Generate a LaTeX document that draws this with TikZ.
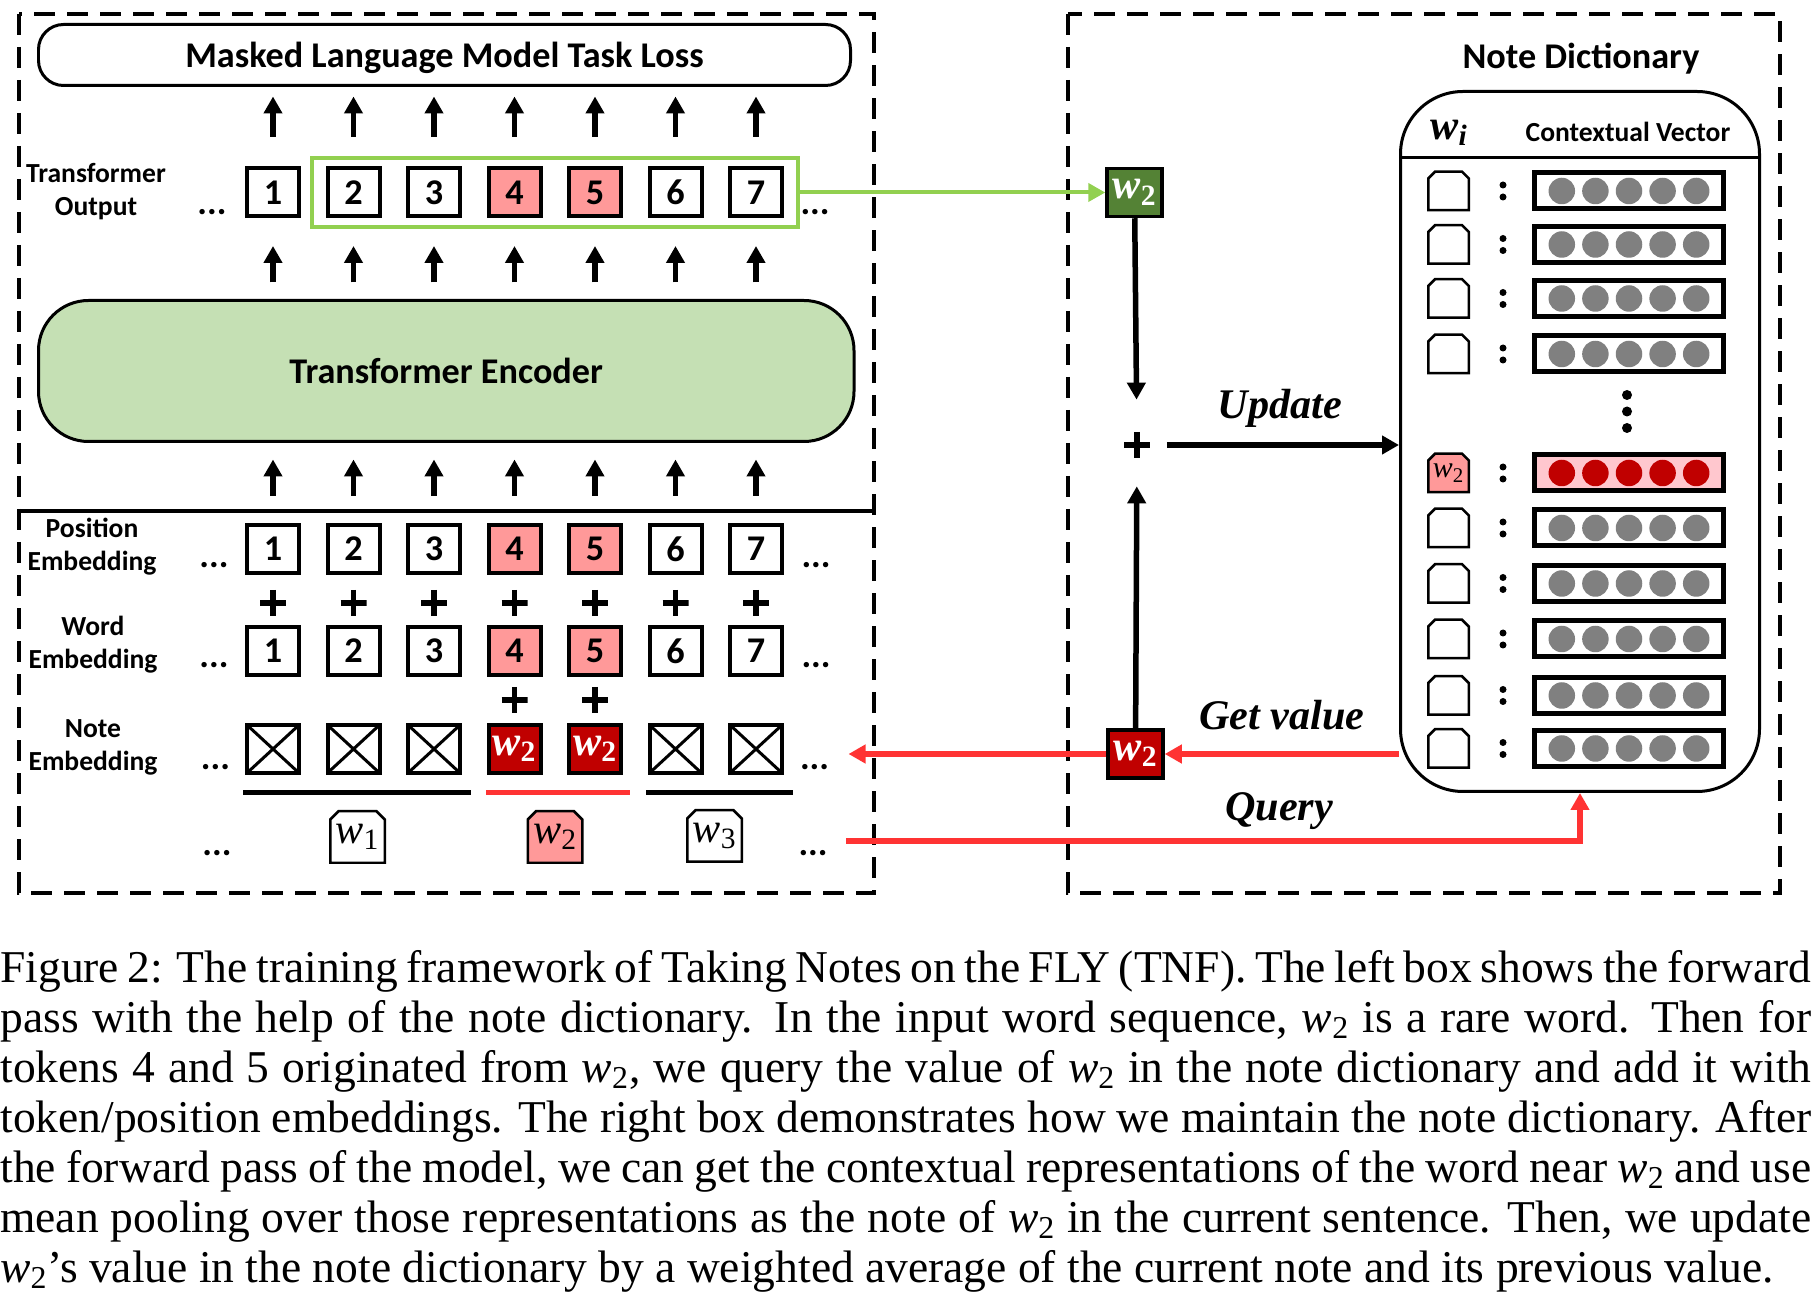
\documentclass[tikz,border=0pt]{standalone}
\usepackage{fontspec}
\setmainfont{Liberation Serif}
\newfontfamily\cali{Carlito}
\usetikzlibrary{arrows.meta,fit}
\definecolor{hotpink}{RGB}{255,153,153}
\definecolor{rowpink}{RGB}{255,199,206}
\definecolor{darkred}{RGB}{192,0,0}
\definecolor{darkgreen}{RGB}{84,130,53}
\definecolor{encgreen}{RGB}{197,224,180}
\definecolor{linegreen}{RGB}{146,208,80}
\definecolor{linered}{RGB}{255,51,51}
\definecolor{dotgrey}{RGB}{128,128,128}
\newcommand{\wv}[1]{\textit{w}\textsubscript{\upshape #1}}
\newcommand{\wc}{\textit{w}\textsubscript{2}}
% word tag outline: fill colour, chamfer
\newcommand{\tagoutline}[2]{\filldraw[fill=#1,line width=0.05cm] ([shift={(0.025cm,0.025cm)}]path picture bounding box.south west) -- ([shift={(0.025cm,-#2)}]path picture bounding box.north west) -- ([shift={(#2,-0.025cm)}]path picture bounding box.north west) -- ([shift={(-#2,-0.025cm)}]path picture bounding box.north east) -- ([shift={(-0.025cm,-#2)}]path picture bounding box.north east) -- ([shift={(-0.025cm,0.025cm)}]path picture bounding box.south east) -- cycle;}
\def\fbig{\cali\bfseries\fontsize{20.6}{24}\selectfont}
\def\flbl{\cali\bfseries\fontsize{15.7}{19}\selectfont}
\def\fwi{\bfseries\itshape\fontsize{24}{28}\selectfont}
\def\fws{\itshape\fontsize{24}{28}\selectfont}
\def\fkey{\itshape\fontsize{17}{19}\selectfont}
\def\fact{\bfseries\itshape\fontsize{24}{28}\selectfont}
\def\fcap{\fontsize{25.9}{28.45}\selectfont}

\begin{document}
\begin{tikzpicture}[>={Triangle[length=0.34cm,width=0.36cm]},node distance=1.61cm]
    \tikzstyle{tokbox}=[rectangle,draw,fill=white,line width=0.08cm,minimum width=1.04cm,minimum height=0.96cm,inner sep=0,font=\fbig]
    \tikzstyle{hotbox}=[tokbox,fill=hotpink]
    \tikzstyle{crossbox}=[tokbox,path picture={\draw[line width=0.06cm] (path picture bounding box.north west) -- (path picture bounding box.south east) (path picture bounding box.north east) -- (path picture bounding box.south west);}]
    \tikzstyle{notebox}=[tokbox,fill=darkred,text=white,font=\fwi]
    \tikzstyle{wordtag}=[rectangle,inner sep=0,minimum width=1.14cm,minimum height=1.08cm,font=\fws,path picture={\tagoutline{white}{0.19cm}}]
    \tikzstyle{hottag}=[wordtag,path picture={\tagoutline{hotpink}{0.19cm}}]
    \tikzstyle{keytag}=[rectangle,inner sep=0,minimum width=0.86cm,minimum height=0.82cm,font=\fkey,path picture={\tagoutline{white}{0.16cm}}]
    \tikzstyle{hotkey}=[keytag,path picture={\tagoutline{hotpink}{0.16cm}}]
    \tikzstyle{valbox}=[rectangle,draw,fill=white,line width=0.1cm,minimum width=3.78cm,minimum height=0.72cm,inner sep=0]
    \tikzstyle{colondots}=[minimum width=0.2cm,minimum height=0.4cm,inner sep=0,path picture={\fill ([yshift=0.12cm]path picture bounding box.center) circle (0.07cm) ([yshift=-0.12cm]path picture bounding box.center) circle (0.07cm);}]
    \tikzstyle{plussign}=[minimum size=0.52cm,inner sep=0,path picture={\draw[line width=0.11cm] (path picture bounding box.north) -- (path picture bounding box.south) (path picture bounding box.west) -- (path picture bounding box.east);}]
    \tikzstyle{ellip}=[inner sep=0,font=\fbig]
    \tikzstyle{sidelabel}=[align=center,font=\flbl]
    \tikzstyle{uparrow}=[->,line width=0.11cm]
    \tikzstyle{redarrow}=[->,draw=linered,line width=0.11cm]
    \tikzstyle{dashframe}=[dash pattern=on 0.42cm off 0.24cm,line width=0.09cm]

    \useasboundingbox (0,0) rectangle (36.36,-26.02);

    % the two boxes
    \draw[dashframe] (0.38,-0.28) rectangle (17.48,-17.86);
    \draw[dashframe] (21.36,-0.28) rectangle (35.6,-17.86);
    \draw[line width=0.08cm] (0.38,-10.22) -- (17.48,-10.22);

    \node(loss) [draw,rounded corners=0.5cm,line width=0.06cm,minimum width=16.24cm,minimum height=1.22cm,text depth=0pt,font=\fbig] at (8.89,-1.1) {Masked Language Model Task Loss};
    \node(enc) [draw,fill=encgreen,rounded corners=1cm,line width=0.06cm,minimum width=16.31cm,minimum height=2.82cm,font=\fbig] at (8.925,-7.42) {Transformer Encoder};

    % transformer output
    \node(o1) [tokbox] at (5.46,-3.85) {1};
    \node(o2) [tokbox,right of=o1] {2};
    \node(o3) [tokbox,right of=o2] {3};
    \node(o4) [hotbox,right of=o3] {4};
    \node(o5) [hotbox,right of=o4] {5};
    \node(o6) [tokbox,right of=o5] {6};
    \node(o7) [tokbox,right of=o6] {7};
    \node(grp) [draw=linegreen,line width=0.08cm,inner xsep=0.27cm,inner ysep=0.17cm,fit=(o2)(o7)] {};
    \node(lo) [sidelabel] at (1.92,-3.83) {Transformer\\Output};
    \node(od1) [ellip] at (4.24,-4.24) {...};
    \node(od2) [ellip] at (16.3,-4.24) {...};

    % position / word / note embeddings
    \node(pe1) [tokbox] at (5.46,-10.98) {1};
    \node(pe2) [tokbox,right of=pe1] {2};
    \node(pe3) [tokbox,right of=pe2] {3};
    \node(pe4) [hotbox,right of=pe3] {4};
    \node(pe5) [hotbox,right of=pe4] {5};
    \node(pe6) [tokbox,right of=pe5] {6};
    \node(pe7) [tokbox,right of=pe6] {7};
    \node(lp) [sidelabel] at (1.84,-10.93) {Position\\Embedding};
    \node(pd1) [ellip] at (4.28,-11.3) {...};
    \node(pd2) [ellip] at (16.32,-11.3) {...};

    \node(we1) [tokbox] at (5.46,-13.02) {1};
    \node(we2) [tokbox,right of=we1] {2};
    \node(we3) [tokbox,right of=we2] {3};
    \node(we4) [hotbox,right of=we3] {4};
    \node(we5) [hotbox,right of=we4] {5};
    \node(we6) [tokbox,right of=we5] {6};
    \node(we7) [tokbox,right of=we6] {7};
    \node(lw) [sidelabel] at (1.86,-12.89) {Word\\Embedding};
    \node(wd1) [ellip] at (4.28,-13.3) {...};
    \node(wd2) [ellip] at (16.32,-13.3) {...};

    \node(ne1) [crossbox] at (5.46,-14.98) {};
    \node(ne2) [crossbox,right of=ne1] {};
    \node(ne3) [crossbox,right of=ne2] {};
    \node(ne4) [notebox,right of=ne3] {\wv{2}};
    \node(ne5) [notebox,right of=ne4] {\wv{2}};
    \node(ne6) [crossbox,right of=ne5] {};
    \node(ne7) [crossbox,right of=ne6] {};
    \node(ln) [sidelabel] at (1.86,-14.95) {Note\\Embedding};
    \node(nd1) [ellip] at (4.31,-15.34) {...};
    \node(nd2) [ellip] at (16.29,-15.34) {...};

    \foreach \i in {1,...,7} \node(a\i) [plussign] at (pe\i |- 0,-12.06) {};
    \node(b4) [plussign] at (we4 |- 0,-14.0) {};
    \node(b5) [plussign] at (we5 |- 0,-14.0) {};

    % input words
    \draw[line width=0.1cm] (4.86,-15.85) -- (9.42,-15.85);
    \draw[line width=0.1cm,linered] (9.72,-15.85) -- (12.6,-15.85);
    \draw[line width=0.1cm] (12.92,-15.85) -- (15.86,-15.85);
    \node(t1) [wordtag] at (7.15,-16.74) {\wv{1}};
    \node(t2) [hottag] at (11.1,-16.74) {\wv{2}};
    \node(t3) [wordtag] at (14.29,-16.72) {\wv{3}};
    \node(bd1) [ellip] at (4.34,-17.06) {...};
    \node(bd2) [ellip] at (16.26,-17.06) {...};

    \foreach \i in {1,...,7} {
        \draw[uparrow,shorten <=0.54cm,shorten >=0.33cm] (pe\i) -- (pe\i |- enc.south);
        \draw[uparrow,shorten <=0.33cm,shorten >=0.55cm] (o\i |- enc.north) -- (o\i);
        \draw[uparrow,shorten <=0.59cm,shorten >=0.19cm] (o\i) -- (o\i |- loss.south);
    }

    % note dictionary
    \node(ndt) [font=\fbig] at (31.62,-1.18) {Note Dictionary};
    \node(dict) [draw,line width=0.06cm,rounded corners=1.25cm,minimum width=7.18cm,minimum height=14cm] at (31.6,-8.83) {};
    \draw[line width=0.06cm] (dict.west |- 0,-3.16) -- (dict.east |- 0,-3.16);
    \node(hw) [font=\fwi] at (28.98,-2.66) {\textit{w}\textsubscript{\textit{i}}};
    \node(hcv) [font=\flbl] at (32.56,-2.64) {Contextual Vector};

    \foreach \y [count=\r] in {-3.82,-4.89,-5.97,-7.08,-10.56,-11.67,-12.78,-13.91,-14.97} {
        \node(k\r) [keytag] at (28.97,\y) {};
        \node(c\r) [colondots] at (30.06,\y) {};
        \node(v\r) [valbox] at (32.58,\y) {};
        \foreach \k in {-2,...,2} \fill[dotgrey] ([xshift=\k*0.672cm]v\r.center) circle (0.265cm);
    }
    \node(kw) [hotkey] at (28.97,-9.46) {\wv{2}};
    \node(cw) [colondots] at (30.06,-9.46) {};
    \node(vw) [valbox,fill=rowpink] at (32.58,-9.46) {};
    \foreach \k in {-2,...,2} \fill[darkred] ([xshift=\k*0.672cm]vw.center) circle (0.265cm);
    \foreach \y in {-7.9,-8.23,-8.56} \fill (32.54,\y) circle (0.1cm);

    % update and query
    \node(gw) [tokbox,fill=darkgreen,text=white,font=\fwi,line width=0.07cm,minimum width=1.1cm] at (22.69,-3.85) {\wv{2}};
    \node(rw) [notebox,line width=0.07cm,minimum width=1.1cm] at (22.71,-15.08) {\wv{2}};
    \node(pl) [plussign] at (22.74,-8.9) {};
    \coordinate(gv) at (16.97,-15.08);
    \coordinate(qs) at (16.92,-16.82);

    \draw[->,draw=linegreen,line width=0.08cm] (grp) -- (gw);
    \draw[uparrow,shorten >=0.64cm] (gw) -- (pl);
    \draw[uparrow,shorten >=0.56cm] (rw) -- (pl);
    \draw[uparrow,shorten <=0.33cm] (pl) -- (pl -| dict.west);
    \draw[redarrow] (rw -| dict.west) -- (rw);
    \draw[redarrow] (rw) -- (gv);
    \draw[redarrow] (qs) -| (dict.south);

    \node(lupd) [font=\fact] at (25.6,-8.16) {Update};
    \node(lget) [font=\fact] at (25.64,-14.3) {Get value};
    \node(lqry) [font=\fact] at (25.58,-16.23) {Query};

    % caption
    \node(cap) [anchor=north west,inner sep=0,text width=36.22cm,align=justify,font=\fcap] at (0,-19.0) {Figure 2: The training framework of Taking Notes on the FLY (TNF). The left box shows the forward\linebreak pass with the help of the note dictionary. In the input word sequence, \wc{} is a rare word. Then for\linebreak tokens 4 and 5 originated from \wc, we query the value of \wc{} in the note dictionary and add it with\linebreak token/position embeddings. The right box demonstrates how we maintain the note dictionary. After\linebreak the forward pass of the model, we can get the contextual representations of the word near \wc{} and use\linebreak mean pooling over those representations as the note of \wc{} in the current sentence. Then, we update\linebreak \wc's value in the note dictionary by a weighted average of the current note and its previous value.};

\end{tikzpicture}
\end{document}
